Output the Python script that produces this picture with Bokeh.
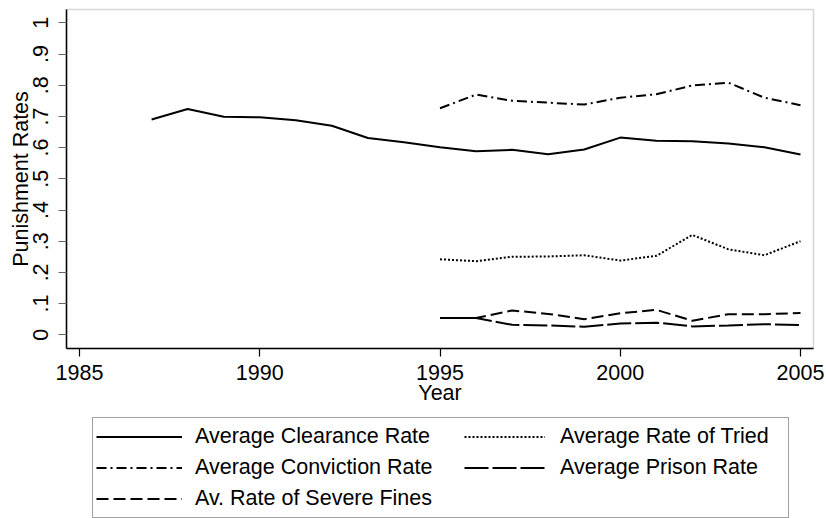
import math
from bokeh.plotting import figure
from bokeh.models import (FixedTicker, CustomJSTickFormatter, Legend, LegendItem,
                          Range1d, BoxAnnotation, Label)
from bokeh.embed import file_html
from bokeh.resources import INLINE

years_clear = [1987, 1988, 1989, 1990, 1991, 1992, 1993, 1994, 1995, 1996,
               1997, 1998, 1999, 2000, 2001, 2002, 2003, 2004, 2005]
clearance = [0.690, 0.724, 0.699, 0.697, 0.688, 0.670, 0.631, 0.617, 0.601, 0.588,
             0.593, 0.579, 0.594, 0.632, 0.622, 0.620, 0.613, 0.601, 0.578]

years = [1995, 1996, 1997, 1998, 1999, 2000, 2001, 2002, 2003, 2004, 2005]
conviction = [0.726, 0.770, 0.750, 0.744, 0.738, 0.760, 0.771, 0.799, 0.808, 0.760, 0.736]
tried = [0.242, 0.236, 0.250, 0.251, 0.255, 0.238, 0.253, 0.320, 0.274, 0.255, 0.300]
prison = [0.054, 0.054, 0.032, 0.030, 0.026, 0.036, 0.039, 0.027, 0.030, 0.034, 0.031]
fines = [0.054, 0.054, 0.078, 0.067, 0.050, 0.069, 0.080, 0.045, 0.066, 0.066, 0.070]

x_ticks = [1985, 1990, 1995, 2000, 2005]
y_ticks = [0, 0.1, 0.2, 0.3, 0.4, 0.5, 0.6, 0.7, 0.8, 0.9, 1.0]

# plot region (data units)
X0, X1 = 1984.639, 2005.361
Y0, Y1 = -0.0439, 1.0426

FONT = "Liberation Sans"
FS = "21.5px"

p = figure(width=826, height=518, output_backend="svg", toolbar_location=None,
           x_range=Range1d(1982.8086, 2005.7212), y_range=Range1d(-0.5888, 1.0715),
           min_border_left=0, min_border_right=0, min_border_top=0, min_border_bottom=0)
p.xgrid.visible = False
p.ygrid.visible = False
p.outline_line_color = None
p.background_fill_color = "white"
p.border_fill_color = "white"

box = BoxAnnotation(left=X0, right=X1, bottom=Y0, top=Y1, fill_alpha=0,
                    line_color="#7a7a7a", line_width=1.5, level="underlay")
p.add_layout(box)

lw = 2
r1 = p.line(years_clear, clearance, line_color="black", line_width=lw, line_join="round")
r2 = p.line(years, tried, line_color="black", line_width=lw, line_dash="2 2")
r3 = p.line(years, conviction, line_color="black", line_width=lw, line_dash="10 4 2 4")
r4 = p.line(years, prison, line_color="black", line_width=lw, line_dash="24 4")
r5 = p.line(years, fines, line_color="black", line_width=lw, line_dash="12 5")

# axes (drawn at the edges of the plot region)
xa = p.xaxis[0]
xa.ticker = FixedTicker(ticks=x_ticks)
xa.fixed_location = Y0
xa.bounds = (X0, X1)
ya = p.yaxis[0]
ya.ticker = FixedTicker(ticks=y_ticks)
ya.fixed_location = X0
ya.bounds = (Y0, Y1)
ya.formatter = CustomJSTickFormatter(code="""
if (tick === 0) return "0";
if (tick >= 1) return "1";
return tick.toFixed(1).replace(/^0/, "");
""")
ya.major_label_orientation = "parallel"

for ax in (xa, ya):
    ax.axis_line_color = "black"
    ax.axis_line_width = 1.5
    ax.major_tick_out = 8
    ax.major_tick_in = 0
    ax.minor_tick_out = 0
    ax.minor_tick_in = 0
    ax.major_tick_line_width = 1.2
    ax.major_label_text_font = FONT
    ax.major_label_text_font_size = FS
    ax.major_label_text_color = "black"
xa.major_tick_line_color = "black"
ya.major_tick_line_color = "#666666"
xa.major_label_standoff = 9
ya.major_label_standoff = 10

# axis titles
p.add_layout(Label(x=(X0 + X1) / 2, y=-0.1865, text="Year", text_align="center",
                   text_baseline="alphabetic", text_font=FONT, text_font_size=FS,
                   text_color="black"))
p.add_layout(Label(x=1983.3634, y=(Y0 + Y1) / 2, text="Punishment Rates", angle=math.pi / 2,
                   text_align="center", text_baseline="alphabetic", text_font=FONT,
                   text_font_size=FS, text_color="black"))

common = dict(glyph_height=31, label_height=31, spacing=0, padding=3, margin=0,
              label_text_font=FONT, label_text_font_size=FS, label_text_color="black")

legend_a = Legend(items=[
    LegendItem(label="Average Clearance Rate", renderers=[r1]),
    LegendItem(label="Average Conviction Rate", renderers=[r3]),
    LegendItem(label="Av. Rate of Severe Fines", renderers=[r5]),
], location=(92, 0), glyph_width=86, label_standoff=13, label_width=590,
    border_line_color="#444444", border_line_width=1.5,
    background_fill_color="white", background_fill_alpha=1.0, **common)
legend_b = Legend(items=[
    LegendItem(label="Average Rate of Tried", renderers=[r2]),
    LegendItem(label="Average Prison Rate", renderers=[r4]),
], location=(464, 35), glyph_width=81, label_standoff=15,
    border_line_color=None, background_fill_alpha=0.0, **common)
p.add_layout(legend_a, "center")
p.add_layout(legend_b, "center")

open("out.html", "w").write(file_html(p, INLINE))
